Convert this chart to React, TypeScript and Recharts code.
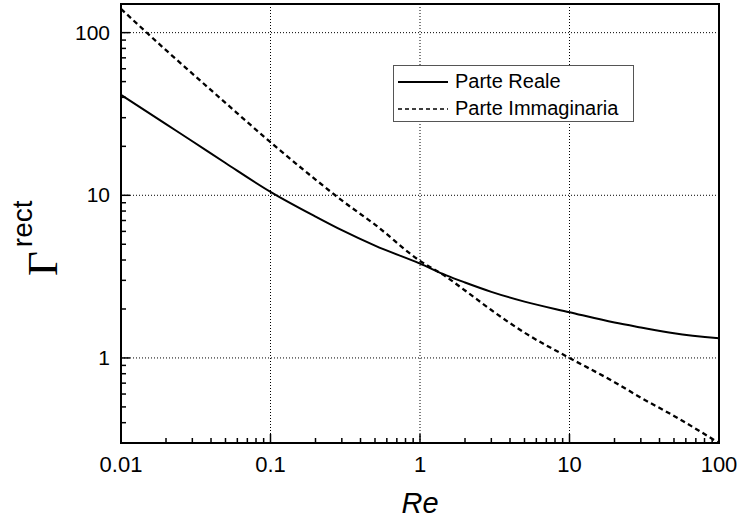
import React from 'react';
import {
  LineChart,
  Line,
  XAxis,
  YAxis,
  Legend,
  ReferenceLine,
  ReferenceArea
} from 'recharts';

// Re values and the two parts of Gamma^rect
const reValues = [0.01, 0.02, 0.03, 0.05, 0.1, 0.2, 0.3, 0.5, 1, 1.5, 2, 3, 5, 10, 20, 30, 50, 100];
const realPart = [41.5, 27.4, 21.5, 15.8, 10.5, 7.4, 6.1, 4.9, 3.8, 3.22, 2.91, 2.55, 2.22, 1.91, 1.65, 1.54, 1.42, 1.32];
const imagPart = [140, 78, 56, 37, 21.2, 12.5, 9.3, 6.6, 3.95, 3.15, 2.6, 1.97, 1.43, 1.0, 0.71, 0.57, 0.44, 0.3];

const xMajor = [0.01, 0.1, 1, 10, 100];
const xMajorLabels = ['0.01', '0.1', '1', '10', '100'];
const yMajor = [1, 10, 100];
const yMajorLabels = ['1', '10', '100'];
const gridX = [0.1, 1, 10];
const gridY = [1, 10, 100];

const X_DOMAIN = [0.01, 100];
const Y_DOMAIN = [0.3, 150];

const data = reValues.map((re, i) => ({ re, real: realPart[i], imag: imagPart[i] }));

// minor ticks 2..9 in every decade
const minorTicks = (from: number, to: number) => {
  const out: number[] = [];
  for (let d = from; d < to; d *= 10) {
    for (let m = 1; m < 10; m++) out.push(+(d * m).toPrecision(3));
  }
  out.push(to);
  return out;
};
const xTicks = minorTicks(0.01, 100);
const yTicks = minorTicks(0.1, 100).filter((v) => v >= 0.3);

const FONT = '"Liberation Sans", Arial, sans-serif';
const W = 740;
const H = 531;
const PLOT_LEFT = 121;
const PLOT_BOTTOM = 443;

const XTick = (props: any) => {
  const { x, payload } = props;
  const v = payload.value;
  const idx = xMajor.findIndex((m) => Math.abs(m - v) < 1e-9);
  const major = idx >= 0;
  return (
    <g>
      <line x1={x} x2={x} y1={PLOT_BOTTOM} y2={PLOT_BOTTOM - (major ? 9 : 5)} stroke="#000" strokeWidth={1.5} />
      {major && (
        <text x={x} y={472} textAnchor="middle" fontSize={22} fontFamily={FONT} fill="#000">
          {xMajorLabels[idx]}
        </text>
      )}
    </g>
  );
};

const YTick = (props: any) => {
  const { y, payload } = props;
  const v = payload.value;
  const idx = yMajor.findIndex((m) => Math.abs(m - v) < 1e-9);
  const major = idx >= 0;
  return (
    <g>
      <line x1={PLOT_LEFT} x2={PLOT_LEFT + (major ? 9 : 5)} y1={y} y2={y} stroke="#000" strokeWidth={1.5} />
      {major && (
        <text x={110} y={y + 7} textAnchor="end" fontSize={21} fontFamily={FONT} fill="#000">
          {yMajorLabels[idx]}
        </text>
      )}
    </g>
  );
};

const YLabel = () => (
  <text transform="rotate(-90, 57, 276)" x={57} y={276} fill="#000">
    <tspan fontFamily='"Liberation Serif", "Times New Roman", serif' fontSize={43}>Γ</tspan>
    <tspan fontFamily={FONT} fontSize={28} dy={-25} dx={4}>rect</tspan>
  </text>
);

const XLabel = () => (
  <text x={420} y={513} textAnchor="middle" fontFamily={FONT} fontSize={29} fontStyle="italic" fill="#000">
    Re
  </text>
);

const LegendBox = () => (
  <div
    style={{
      border: '1px solid #555',
      background: '#fff',
      width: 239,
      height: 55,
      fontFamily: FONT,
      fontSize: 20,
      color: '#000',
      boxSizing: 'content-box'
    }}
  >
    {[
      { name: 'Parte Reale', dash: undefined },
      { name: 'Parte Immaginaria', dash: '4 3' }
    ].map((item, i) => (
      <div key={item.name} style={{ display: 'flex', alignItems: 'center', height: 27, marginTop: i === 0 ? 2 : 0 }}>
        <svg width={60} height={10} style={{ marginLeft: 4 }}>
          <line x1={0} x2={50} y1={5} y2={5} stroke="#000" strokeWidth={i === 0 ? 2 : 1.6} strokeDasharray={item.dash} />
        </svg>
        <span style={{ marginLeft: -3 }}>{item.name}</span>
      </div>
    ))}
  </div>
);

export default function App() {
  return (
    <div style={{ position: 'absolute', left: 0, top: 0, width: W, height: H, background: '#fff' }}>
      <LineChart width={W} height={H} data={data} margin={{ top: 4, right: 21, left: 0, bottom: 0 }}>
        <XAxis
          dataKey="re"
          type="number"
          scale="log"
          domain={X_DOMAIN}
          allowDataOverflow
          ticks={xTicks}
          interval={0}
          tick={<XTick />}
          tickLine={false}
          tickSize={0}
          tickMargin={0}
          height={88}
          axisLine={{ stroke: '#000', strokeWidth: 2 }}
          label={<XLabel />}
        />
        <YAxis
          type="number"
          scale="log"
          domain={Y_DOMAIN}
          allowDataOverflow
          ticks={yTicks}
          interval={0}
          tick={<YTick />}
          tickLine={false}
          tickSize={0}
          tickMargin={0}
          width={121}
          axisLine={{ stroke: '#000', strokeWidth: 2 }}
          label={<YLabel />}
        />
        {gridX.map((v) => (
          <ReferenceLine key={'gx' + v} x={v} stroke="#000" strokeWidth={1} strokeDasharray="1 2" />
        ))}
        {gridY.map((v) => (
          <ReferenceLine key={'gy' + v} y={v} stroke="#000" strokeWidth={1} strokeDasharray="1 2" />
        ))}
        <ReferenceArea
          x1={X_DOMAIN[0]}
          x2={X_DOMAIN[1]}
          y1={Y_DOMAIN[0]}
          y2={Y_DOMAIN[1]}
          fill="none"
          stroke="#000"
          strokeWidth={2}
        />
        <Line
          type="monotone"
          dataKey="real"
          stroke="#000"
          strokeWidth={2}
          dot={false}
          isAnimationActive={false}
        />
        <Line
          type="monotone"
          dataKey="imag"
          stroke="#000"
          strokeWidth={2.3}
          strokeDasharray="5 3.5"
          dot={false}
          isAnimationActive={false}
        />
        <Legend
          layout="vertical"
          align="center"
          verticalAlign="middle"
          content={<LegendBox />}
          wrapperStyle={{ position: 'absolute', left: 393, top: 65, width: 241, height: 57 }}
        />
      </LineChart>
    </div>
  );
}
